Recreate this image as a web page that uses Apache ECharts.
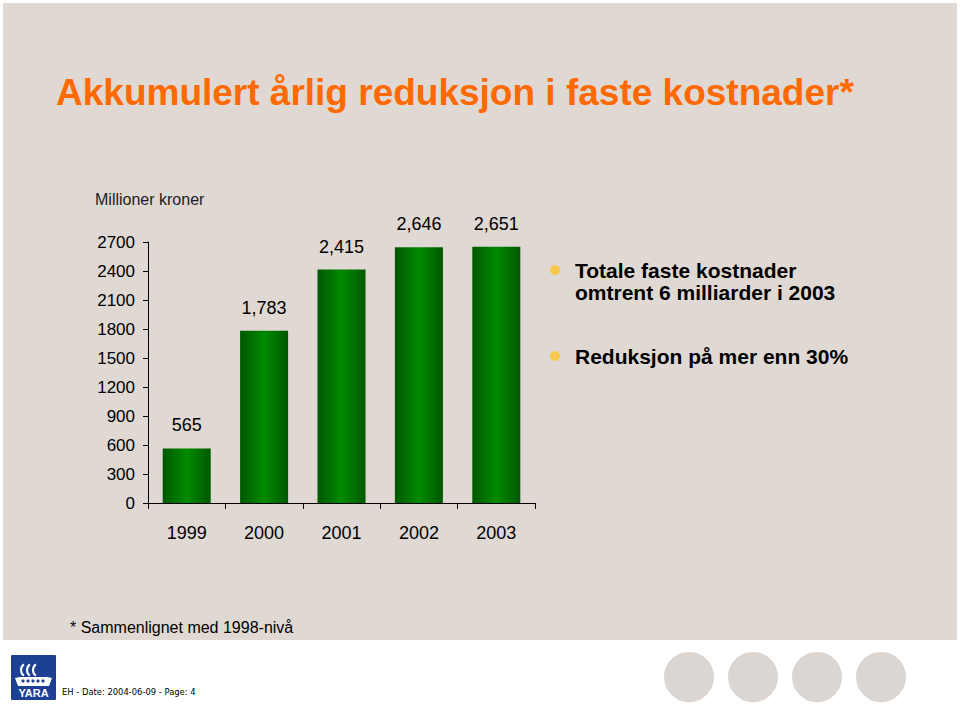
<!DOCTYPE html>
<html><head><meta charset="utf-8">
<script src="https://cdn.jsdelivr.net/npm/echarts@6/dist/echarts.min.js"></script>
<style>html,body{margin:0;padding:0;background:#fff}#c{width:960px;height:717px}</style>
</head><body><div id="c"></div>
<script>
const categories = ['1999', '2000', '2001', '2002', '2003'];
const values = [565, 1783, 2415, 2646, 2651];
const yTicks = [0, 300, 600, 900, 1200, 1500, 1800, 2100, 2400, 2700];
const titleText = 'Akkumulert årlig reduksjon i faste kostnader*';
const unitText = 'Millioner kroner';
const bullets = [['Totale faste kostnader', 'omtrent 6 milliarder i 2003'], ['Reduksjon på mer enn 30%']];
const footnote = '* Sammenlignet med 1998-nivå';
const footer = 'EH - Date: 2004-06-09 - Page: 4';

const chart = echarts.init(document.getElementById('c'), null, {renderer: 'svg'});
const F = 'Liberation Sans, Arial, sans-serif';
const green = new echarts.graphic.LinearGradient(0, 0, 1, 0, [
  {offset: 0, color: '#005800'}, {offset: 0.5, color: '#008a00'}, {offset: 1, color: '#005800'}
]);
const circles = [689, 753, 817, 881].map(x => ({
  type: 'circle', shape: {cx: x, cy: 677, r: 25}, style: {fill: '#dcd6d2'}, silent: true
}));
const bulletEls = [];
[[270, bullets[0]], [356, bullets[1]]].forEach(([y, lines]) => {
  bulletEls.push({type: 'circle', shape: {cx: 555, cy: y, r: 5}, style: {fill: '#f7c84a'}});
  lines.forEach((t, i) => bulletEls.push({
    type: 'text', x: 575, y: y + i * 22,
    style: {text: t, font: 'bold 21px ' + F, fill: '#000', textVerticalAlign: 'middle'}
  }));
});
const logo = [
  {type: 'rect', shape: {x: 11, y: 655, width: 45, height: 45, r: 1}, style: {fill: '#1d3f94'}},
  ...[22, 28, 34].map(x => ({type: 'arc', shape: {cx: x + 6, cy: 670, r: 7, startAngle: Math.PI * 0.7, endAngle: Math.PI * 1.3}, style: {stroke: '#fff', lineWidth: 2, fill: null}})),
  {type: 'polygon', shape: {points: [[15, 678], [20, 677], [47, 677], [52, 678], [49, 686], [18, 686]]}, style: {fill: '#fff'}},
  ...[23, 28, 33, 38, 43].map(x => ({type: 'circle', shape: {cx: x, cy: 681, r: 1.6}, style: {fill: '#1d3f94'}})),
  {type: 'text', x: 33.5, y: 693, style: {text: 'YARA', font: 'bold 11px ' + F, fill: '#fff', textAlign: 'center', textVerticalAlign: 'middle'}}
];
chart.setOption({
  animation: false,
  graphic: [
    {type: 'rect', shape: {x: 3, y: 3, width: 954, height: 637}, style: {fill: '#dfd8d3'}, z: -10},
    {type: 'text', x: 56, y: 92, style: {text: titleText, font: 'bold 37px ' + F, fill: '#ff6a00', textVerticalAlign: 'middle'}},
    {type: 'text', x: 95, y: 199, style: {text: unitText, font: '16px ' + F, fill: '#222', textVerticalAlign: 'middle'}},
    {type: 'text', x: 70, y: 627, style: {text: footnote, font: '16px ' + F, fill: '#000', textVerticalAlign: 'middle'}},
    ...logo,
    {type: 'text', x: 62, y: 692, style: {text: footer, font: '8.4px DejaVu Sans, sans-serif', fill: '#000', textVerticalAlign: 'middle'}},
    ...circles,
    ...bulletEls
  ],
  grid: {left: 148, top: 242, right: 425, bottom: 214, containLabel: false},
  xAxis: {
    type: 'category', data: categories, boundaryGap: true,
    axisLine: {lineStyle: {color: '#000', width: 1}},
    axisTick: {show: true, length: 6, lineStyle: {color: '#000'}},
    axisLabel: {fontFamily: F, fontSize: 18, color: '#000', margin: 21}
  },
  yAxis: {
    type: 'value', min: 0, max: 2700, interval: 300,
    splitLine: {show: false},
    axisLine: {show: true, lineStyle: {color: '#000', width: 1}},
    axisTick: {show: true, length: 5, lineStyle: {color: '#000'}},
    axisLabel: {fontFamily: F, fontSize: 17, color: '#000', margin: 13,
      formatter: v => yTicks.includes(v) ? String(v) : ''}
  },
  series: [{
    type: 'bar', data: values, barWidth: 48,
    itemStyle: {color: green},
    label: {show: true, position: 'top', distance: 14, fontFamily: F, fontSize: 18, color: '#000',
      formatter: p => p.value.toLocaleString('en-US')}
  }]
});
</script></body></html>
